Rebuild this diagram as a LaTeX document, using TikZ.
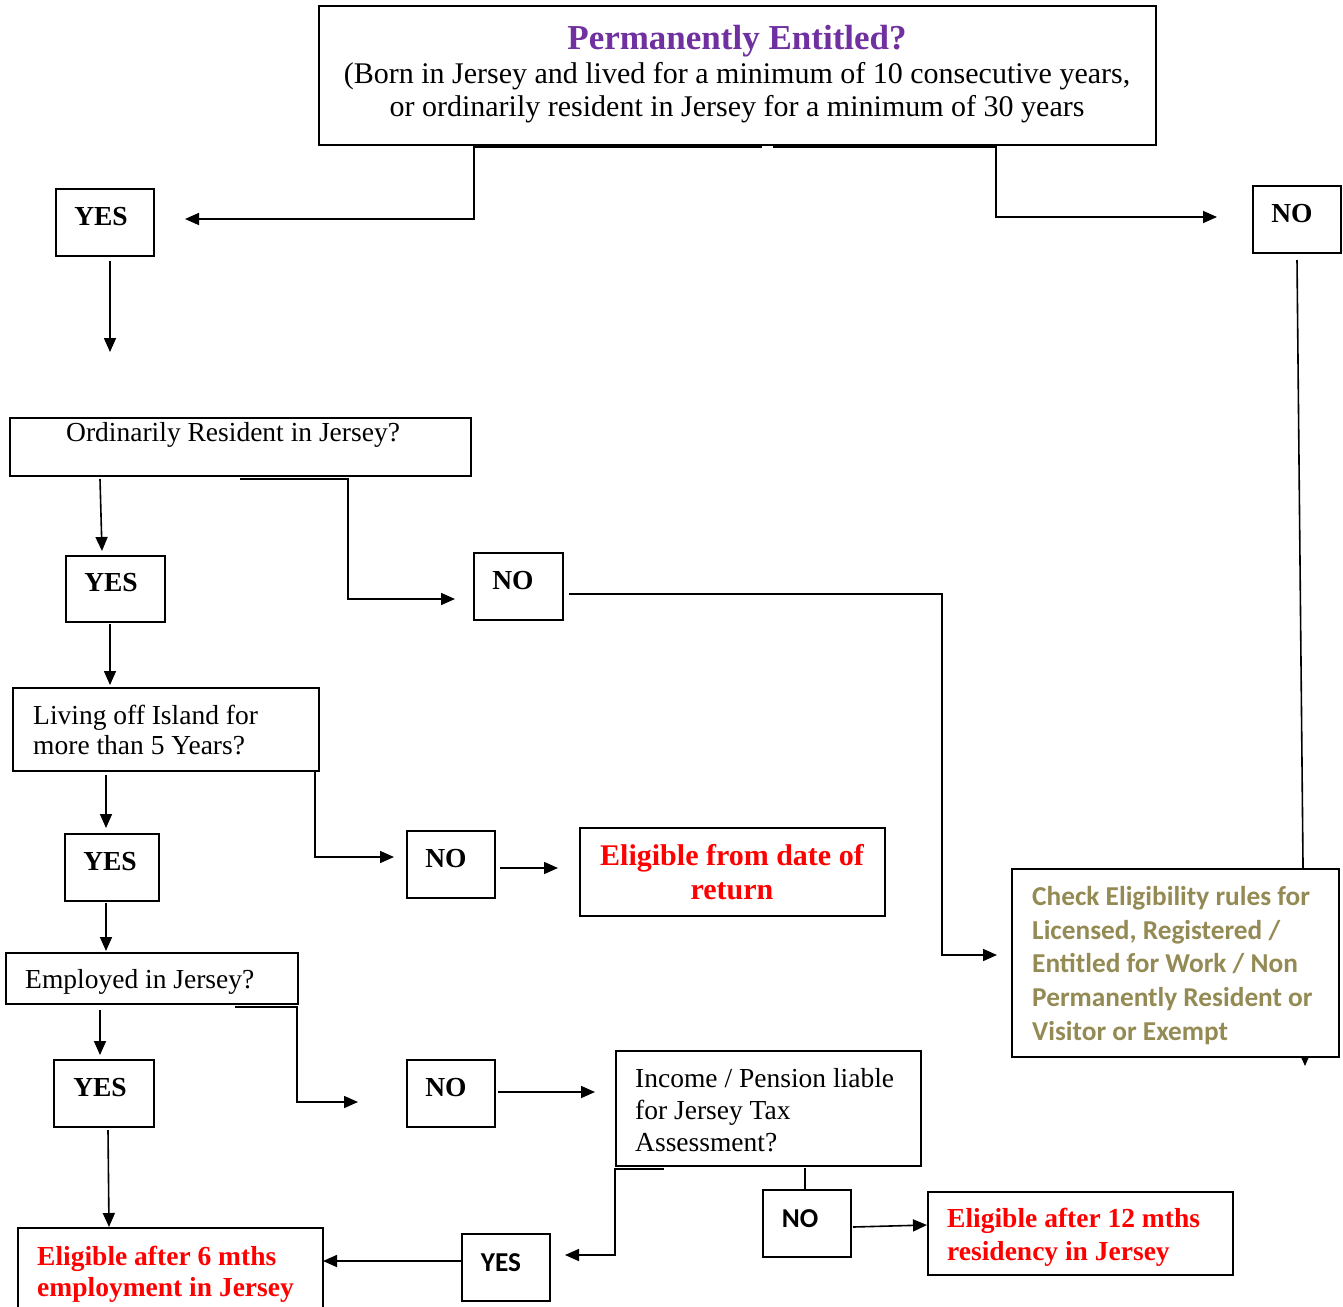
\documentclass[tikz,border=0pt]{standalone}
\usepackage{fontspec}
\setmainfont{Liberation Serif}
\newfontfamily\calfont{Carlito}
\usetikzlibrary{arrows.meta,fit,backgrounds}
\definecolor{ttl}{HTML}{7030A0}
\definecolor{olv}{HTML}{948A54}
\definecolor{rd}{HTML}{FF0000}
\newcommand\mybody{\fontsize{27.5pt}{32pt}\selectfont}
\newcommand\mytop{\fontsize{30pt}{34pt}\selectfont}
\newcommand\mybold{\fontsize{27.5pt}{32pt}\selectfont\bfseries}
\newcommand\mytitle{\fontsize{35pt}{40pt}\selectfont\bfseries}
\newcommand\myred{\fontsize{30pt}{34pt}\selectfont\bfseries}
\newcommand\mycal{\fontsize{27.3pt}{33pt}\selectfont\calfont\bfseries}
\begin{document}
\begin{tikzpicture}[x=1pt,y=-1pt,
  bx/.style={draw, line width=1.6pt, inner sep=0pt, fill=white},
  tc/.style={inner sep=0pt, anchor=base},
  tl/.style={inner sep=0pt, anchor=base west},
  ln/.style={line width=1.6pt},
  ar/.style={ln, -{Triangle[length=14pt,width=12pt]}}]
\useasboundingbox (0,0) rectangle (1343,1306);

% ---------- boxes ----------
\node[bx, fit={(319,6)(1156,145)}] (top) {};
\node[bx, fit={(56,189)(154,256)}] (yes1) {};
\node[bx, fit={(1253,186)(1341,253)}] (no1) {};
\node[bx, fit={(10,418)(471,476)}] (ord) {};
\node[bx, fit={(66,556)(165,622)}] (yes2) {};
\node[bx, fit={(474,553)(563,620)}] (no2) {};
\node[bx, fit={(13,688)(319,771)}] (liv) {};
\node[bx, fit={(65,834)(159,901)}] (yes3) {};
\node[bx, fit={(407,831)(495,898)}] (no3) {};
\node[bx, fit={(580,828)(885,916)}] (ret) {};
\node[bx, fit={(6,953)(298,1004)}] (emp) {};
\node[bx, fit={(54,1060)(154,1127)}] (yes5) {};
\node[bx, fit={(407,1060)(495,1127)}] (no4) {};
\node[bx, fit={(616,1051)(921,1166)}] (inc) {};
\node[bx, fit={(763,1190)(851,1257)}] (no5) {};
\node[bx, fit={(928,1192)(1233,1275)}] (r12) {};
\node[bx, fit={(462,1234)(550,1301)}] (yes6) {};
\node[bx, fit={(18,1228)(323,1318)}] (r6) {};
\node[bx, fit={(1012,869)(1339,1057)}] (chk) {};

% ---------- texts ----------
\node[tc, font=\mytitle, text=ttl] (t0) at (737,49) {Permanently Entitled?};
\node[tc, font=\mytop] (t1) at (737,83) {(Born in Jersey and lived for a minimum of 10 consecutive years,};
\node[tc, font=\mytop] (t2) at (737,116) {or ordinarily resident in Jersey for a minimum of 30 years};
\node[tc, font=\mybold] (tyes1) at (101,225) {YES};
\node[tc, font=\mybold] (tno1) at (1292,222) {NO};
\node[tl, font=\mybody] (tord) at (66,441) {Ordinarily Resident in Jersey?};
\node[tc, font=\mybold] (tyes2) at (111,591) {YES};
\node[tc, font=\mybold] (tno2) at (513,589) {NO};
\node[tl, font=\mybody] (tliv1) at (33,724) {Living off Island for};
\node[tl, font=\mybody] (tliv2) at (33,754) {more than 5 Years?};
\node[tc, font=\mybold] (tyes3) at (110,870) {YES};
\node[tc, font=\mybold] (tno3) at (446,867) {NO};
\node[tc, font=\myred, text=rd] (tret1) at (732,865) {Eligible from date of};
\node[tc, font=\myred, text=rd] (tret2) at (732,899) {return};
\node[tl, font=\mybody] (temp) at (25,988) {Employed in Jersey?};
\node[tc, font=\mybold] (tyes5) at (100,1096) {YES};
\node[tc, font=\mybold] (tno4) at (446,1096) {NO};
\node[tl, font=\mybody] (tinc1) at (635,1087) {Income / Pension liable};
\node[tl, font=\mybody] (tinc2) at (635,1119) {for Jersey Tax};
\node[tl, font=\mybody] (tinc3) at (635,1151) {Assessment?};
\node[tc, font=\mycal] (tno5) at (800,1227) {NO};
\node[tl, font=\mybold, text=rd] (tr12a) at (947,1227) {Eligible after 12 mths};
\node[tl, font=\mybold, text=rd] (tr12b) at (947,1260) {residency in Jersey};
\node[tc, font=\mycal] (tyes6) at (501,1271) {YES};
\node[tl, font=\mybold, text=rd] (tr6a) at (37,1265) {Eligible after 6 mths};
\node[tl, font=\mybold, text=rd] (tr6b) at (37,1296) {employment in Jersey};
\node[tl, font=\mycal, text=olv] (tc1) at (1032,905) {Check Eligibility rules for};
\node[tl, font=\mycal, text=olv] (tc2) at (1032,939) {Licensed, Registered /};
\node[tl, font=\mycal, text=olv] (tc3) at (1032,972) {Entitled for Work / Non};
\node[tl, font=\mycal, text=olv] (tc4) at (1032,1006) {Permanently Resident or};
\node[tl, font=\mycal, text=olv] (tc5) at (1032,1040) {Visitor or Exempt};

% ---------- free ends ----------
\coordinate (a1) at (762,147);  \coordinate (e1) at (185,219);
\coordinate (a2) at (773,147);  \coordinate (e2) at (1217,217);
\coordinate (a3) at (110,261);  \coordinate (e3) at (110,352);
\coordinate (a4) at (1297,260); \coordinate (e4) at (1305,1066);
\coordinate (a5) at (100,479);  \coordinate (e5) at (102,551);
\coordinate (a6) at (240,479);  \coordinate (e6) at (455,599);
\coordinate (a7) at (569,594);  \coordinate (e7) at (997,955);
\coordinate (a8) at (110,624);  \coordinate (e8) at (110,685);
\coordinate (a9) at (106,775);  \coordinate (e9) at (106,828);
\coordinate (a10) at (235,771); \coordinate (e10) at (394,857);
\coordinate (a11) at (500,868); \coordinate (e11) at (558,868);
\coordinate (a12) at (106,903); \coordinate (e12) at (106,951);
\coordinate (a13) at (100,1010);\coordinate (e13) at (100,1055);
\coordinate (a14) at (235,1007);\coordinate (e14) at (358,1102);
\coordinate (a15) at (498,1092);\coordinate (e15) at (595,1092);
\coordinate (a16) at (805,1168);\coordinate (e16) at (805,1190);
\coordinate (a17) at (853,1227);\coordinate (e17) at (927,1225);
\coordinate (a18) at (664,1169);\coordinate (e18) at (565,1255);
\coordinate (a19) at (462,1261);\coordinate (e19) at (323,1261);
\coordinate (a20) at (108,1130);\coordinate (e20) at (109,1227);

% ---------- connectors ----------
\draw[ar] (a1) -- (474,147) -- (474,219) -- (e1);
\draw[ar] (a2) -- (996,147) -- (996,217) -- (e2);
\draw[ar] (a3) -- (e3);
\begin{scope}[on background layer]
\draw[ar] (a4) -- (e4);
\end{scope}
\draw[ar] (a5) -- (e5);
\draw[ar] (a6) -- (348,479) -- (348,599) -- (e6);
\draw[ar] (a7) -- (942,594) -- (942,955) -- (e7);
\draw[ar] (a8) -- (e8);
\draw[ar] (a9) -- (e9);
\draw[ar] (a10) -- (315,771) -- (315,857) -- (e10);
\draw[ar] (a11) -- (e11);
\draw[ar] (a12) -- (e12);
\draw[ar] (a13) -- (e13);
\draw[ar] (a14) -- (297,1007) -- (297,1102) -- (e14);
\draw[ar] (a15) -- (e15);
\draw[ln] (a16) -- (e16);
\draw[ar] (a17) -- (e17);
\draw[ar] (a18) -- (615,1169) -- (615,1255) -- (e18);
\draw[ar] (a19) -- (e19);
\draw[ar] (a20) -- (e20);
\end{tikzpicture}
\end{document}
